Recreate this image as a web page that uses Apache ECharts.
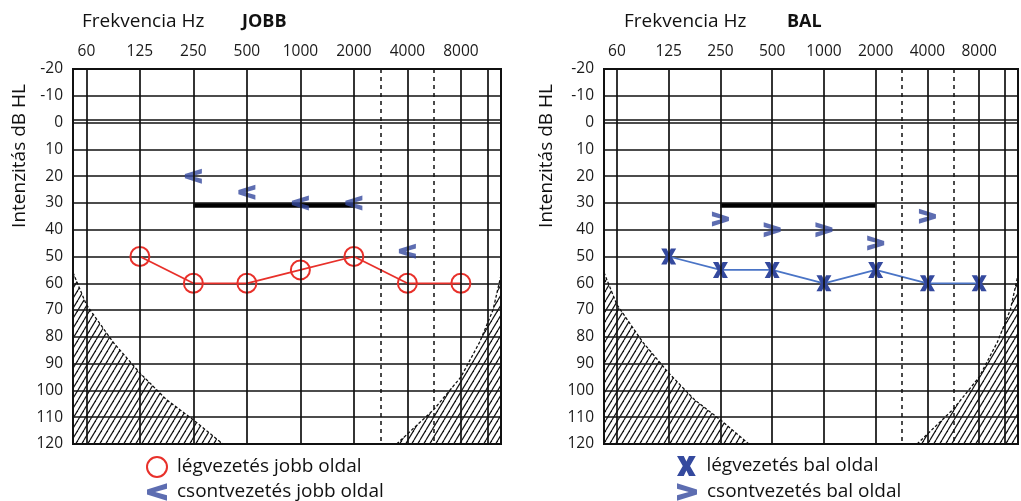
<!DOCTYPE html>
<html><head><meta charset="utf-8">
<script src="https://cdn.jsdelivr.net/npm/echarts@6/dist/echarts.min.js"></script>
<style>html,body{margin:0;padding:0;background:#fff}#c{width:1021px;height:501px}</style>
</head><body><div id="c"></div>
<script>
// ---- data ----
const freqLabels = ['60','125','250','500','1000','2000','4000','8000'];
const freqPos = [0,1,2,3,4,5,6,7];          // octave index of each labelled frequency
const solidFreqLines = [0,1,2,3,4,5,6,7,7.5];
const dashedFreqLines = [5.5,6.5];          // 3000 Hz, 6000 Hz

// JOBB (right ear)
const airJobbPos = [1,2,3,4,5,6,7];
const airJobbDb  = [50,60,60,55,50,60,60];
const boneJobbPos = [2,3,4,5,6];
const boneJobbDb  = [20,26,30,30,48];

// BAL (left ear)
const airBalPos = [1,2,3,4,5,6,7];
const airBalDb  = [50,55,55,60,55,60,60];
const boneBalPos = [2,3,4,5,6];
const boneBalDb  = [36,40,40,45,35];

// normal-range bar (250–2000 Hz)
const barPos = [2,5];
const barDb  = [31,31];

// hatched regions (outside audiometer limits)
const hatchLowPos = [-0.25,0,0.5,1,1.5,2,2.55];
const hatchLowDb  = [56,68,82,93.5,103.5,111,120];
const hatchHighPos = [5.8,6.5,7,7.35,7.6,7.75];
const hatchHighDb  = [120,107,95,82,70,57];

const legendJobb = ['légvezetés jobb oldal','csontvezetés jobb oldal'];
const legendBal  = ['légvezetés bal oldal','csontvezetés bal oldal'];

const FONT = '"Open Sans", sans-serif';
const BLUE_SYM = '#34499e';
const BLUE_LINE = '#4a74c6';
const RED = '#e8302a';
const INK = '#111';

const LT = 'path://M17,0 L17,4.8 L7,7.5 L17,10.2 L17,15 L0,9.6 L0,5.4 Z';
const GT = 'path://M0,0 L17,5.4 L17,9.6 L0,15 L0,10.2 L10,7.5 L0,4.8 Z';
const XS = 'path://M0,0 L5.4,0 L7.5,4.4 L9.6,0 L15,0 L10.4,8 L15,16 L9.6,16 L7.5,11.6 L5.4,16 L0,16 L4.6,8 Z';

const zip = (a,b) => a.map((v,i)=>[v,b[i]]);

function hatchCanvas(){
  const c=document.createElement('canvas'); c.width=6; c.height=10;
  const g=c.getContext('2d'); g.strokeStyle=INK; g.lineWidth=1.2;
  for (const o of [-6,0,6]) { g.beginPath(); g.moveTo(o,10); g.lineTo(o+6,0); g.stroke(); }
  return c;
}
const pattern = {image: hatchCanvas(), repeat:'repeat'};

const chart = echarts.init(document.getElementById('c'), null, {renderer:'canvas'});

function gridSeries(idx){
  const lines = [];
  solidFreqLines.forEach(v=>lines.push({xAxis:v, lineStyle:{type:'solid'}}));
  dashedFreqLines.forEach(v=>lines.push({xAxis:v, lineStyle:{type:[4,4], width:1.5}}));
  lines.push({yAxis:-1.1});
  return {type:'line', xAxisIndex:idx, yAxisIndex:idx, data:[], z:2, silent:true,
    markLine:{symbol:['none','none'], silent:true, label:{show:false}, animation:false,
      lineStyle:{color:INK, width:1.7, type:'solid'}, data:lines}};
}
function hatchSeries(idx, pos, db){
  return {type:'line', xAxisIndex:idx, yAxisIndex:idx, data:zip(pos,db), z:1, silent:true,
    showSymbol:false, symbol:'none',
    lineStyle:{color:INK, width:1.3, type:[3,2]},
    areaStyle:{origin:'end', color:pattern, opacity:1}};
}
function barSeries(idx){
  return {type:'line', xAxisIndex:idx, yAxisIndex:idx, data:zip(barPos,barDb), z:3, silent:true,
    symbol:'none', lineStyle:{color:'#000', width:4.5}};
}

const xAxisBase = idx => ({gridIndex:idx, type:'value', position:'top', min:-0.25, max:7.75, interval:0.25,
  axisLine:{show:false}, axisTick:{show:false}, splitLine:{show:false},
  axisLabel:{margin:9, fontSize:15.5, fontFamily:FONT, color:'#1a1a1a',
    formatter:v=>{const i=freqPos.indexOf(v); return i>=0?freqLabels[i]:'';}}});
const yAxisBase = idx => ({gridIndex:idx, type:'value', inverse:true, min:-20, max:120, interval:10,
  axisLine:{show:false}, axisTick:{show:false},
  splitLine:{show:true, lineStyle:{color:INK, width:1.7}},
  axisLabel:{margin:10, fontSize:15.5, fontFamily:FONT, color:'#1a1a1a'}});

const titleStyle = (bold)=>({fontFamily:FONT, fontSize:bold?18:19, fontWeight:bold?'bold':'normal', color:INK});

function legendOne(left, top, name, icon, itemStyle){
  return {orient:'vertical', left:left, top:top, padding:0, itemWidth:20, itemHeight:20, selectedMode:false,
    textStyle:{fontSize:19, fontFamily:FONT, color:INK, padding:[0,0,0,5], lineHeight:20},
    data:[{name:name, icon:icon, itemStyle:itemStyle}]};
}

const option = {
  animation:false,
  backgroundColor:'#fff',
  title:[
    {text:'Frekvencia Hz', left:82, top:12, padding:0, textStyle:titleStyle(false)},
    {text:'JOBB', left:242, top:13, padding:0, textStyle:titleStyle(true)},
    {text:'Frekvencia Hz', left:624, top:12, padding:0, textStyle:titleStyle(false)},
    {text:'BAL', left:787, top:13, padding:0, textStyle:titleStyle(true)}
  ],
  grid:[
    {left:73, top:69, width:428, height:375, show:true, borderColor:INK, borderWidth:2, backgroundColor:'transparent'},
    {left:604, top:69, width:428, height:375, show:true, borderColor:INK, borderWidth:2, backgroundColor:'transparent'}
  ],
  xAxis:[xAxisBase(0), xAxisBase(1)],
  yAxis:[yAxisBase(0), yAxisBase(1)],
  graphic:[
    {type:'text', x:20, y:156, rotation:Math.PI/2, silent:true,
      style:{text:'Intenzitás dB HL', align:'center', verticalAlign:'middle', fontSize:19, fontFamily:FONT, fill:INK}},
    {type:'text', x:547, y:156, rotation:Math.PI/2, silent:true,
      style:{text:'Intenzitás dB HL', align:'center', verticalAlign:'middle', fontSize:19, fontFamily:FONT, fill:INK}}
  ],
  legend:[
    legendOne(146, 456, legendJobb[0], 'circle', {color:'rgba(255,255,255,0)', borderColor:RED, borderWidth:2}),
    legendOne(147, 482, legendJobb[1], LT, {color:BLUE_SYM}),
    legendOne(677, 456, legendBal[0], XS, {color:BLUE_SYM}),
    legendOne(677, 482, legendBal[1], GT, {color:BLUE_SYM})
  ],
  series:[
    hatchSeries(0, hatchLowPos, hatchLowDb),
    hatchSeries(0, hatchHighPos, hatchHighDb),
    hatchSeries(1, hatchLowPos, hatchLowDb),
    hatchSeries(1, hatchHighPos, hatchHighDb),
    gridSeries(0), gridSeries(1),
    barSeries(0), barSeries(1),
    {name:legendJobb[0], type:'line', xAxisIndex:0, yAxisIndex:0, z:4,
      data:zip(airJobbPos, airJobbDb), symbol:'circle', symbolSize:19,
      itemStyle:{color:'rgba(255,255,255,0)', borderColor:RED, borderWidth:2},
      lineStyle:{color:RED, width:1.8}},
    {name:legendJobb[1], type:'scatter', xAxisIndex:0, yAxisIndex:0, z:4,
      data:zip(boneJobbPos, boneJobbDb), symbol:LT, symbolSize:[17,15], itemStyle:{color:BLUE_SYM}},
    {name:legendBal[0], type:'line', xAxisIndex:1, yAxisIndex:1, z:4,
      data:zip(airBalPos, airBalDb), symbol:XS, symbolSize:[15,16],
      itemStyle:{color:BLUE_SYM}, lineStyle:{color:BLUE_LINE, width:1.8}},
    {name:legendBal[1], type:'scatter', xAxisIndex:1, yAxisIndex:1, z:4,
      data:zip(boneBalPos, boneBalDb), symbol:GT, symbolSize:[17,15], itemStyle:{color:BLUE_SYM}}
  ]
};
chart.setOption(option);
</script>
</body></html>
